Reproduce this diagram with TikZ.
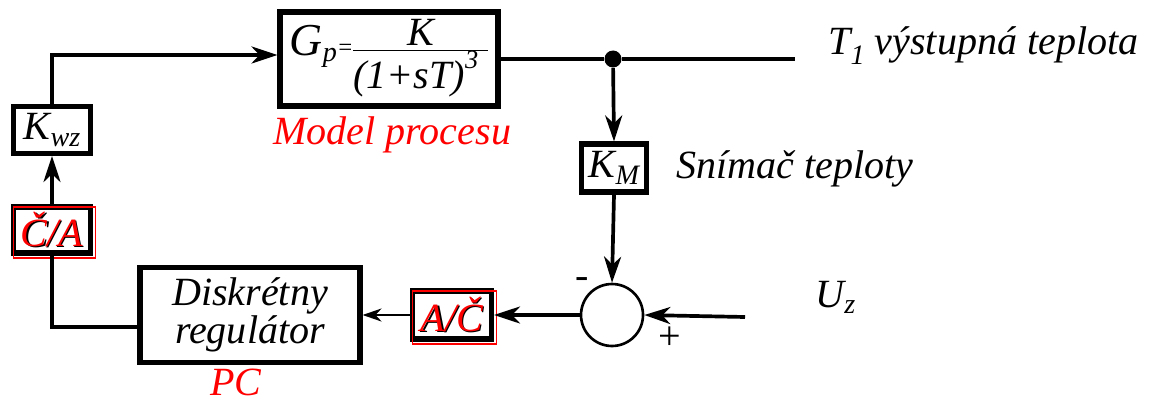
\documentclass[tikz,border=0pt]{standalone}
\usepackage{amsmath}
\usepackage{fontspec}
\setmainfont{Liberation Serif}
\usepackage{xcolor}
\usetikzlibrary{
  arrows.meta,
  positioning,
  calc
}
\newcommand{\redtext}[1]{\rlap{\kern0.7pt\raisebox{-0.7pt}{#1}}\textcolor{red}{#1}}
\newcommand{\sbs}[1]{\raisebox{-0.35ex}{\fontsize{16}{16}\selectfont #1}}
\newcommand{\fracline}[2]{\begin{tabular}{@{}c@{}}#1\\[-3pt]\hline\rule{0pt}{19pt}#2\end{tabular}}

\begin{document}
\begin{tikzpicture}[
  x=0.02cm, y=-0.02cm,
  every node/.style={font=\fontsize{22.8}{20}\selectfont\itshape, inner sep=0pt},
  block/.style={
    rectangle, draw, line width=2.9pt, fill=white, align=center
  },
  link/.style={line width=2.1pt},
  tip/.style={-{Stealth[length=0.52cm, width=0.34cm, inset=0.16cm]}},
  thintip/.style={line width=1.3pt, -{Stealth[length=0.38cm, width=0.26cm, inset=0.12cm]}},
  sumnode/.style={circle, draw, line width=1.5pt, minimum size=1.24cm},
  redframe/.style={draw=red, line width=0.8pt}
]
  \useasboundingbox (0,0) rectangle (1151,405);

  \node[block, minimum width=4.36cm, minimum height=1.88cm] (gp) at (389,59)
    {{\fontsize{26}{20}\selectfont G}\sbs{p}{\fontsize{14}{14}\selectfont=}\raisebox{-0.7ex}{\fracline{K}{(1+sT)\raisebox{1.1ex}{\fontsize{15}{15}\selectfont 3}\kern0.25em}}};
  \node[block, minimum width=1.54cm, minimum height=0.94cm] (kwz) at (52,130) {K\sbs{wz}};
  \node[block, minimum width=1.54cm, minimum height=0.92cm] (ca) at (52,230) {\redtext{Č/A}};
  \node[block, minimum width=1.58cm, minimum height=0.96cm] (ac) at (452,315) {\redtext{A/Č}};
  \node[block, minimum width=1.3cm, minimum height=0.96cm] (km) at (614,168) {K\sbs{M}};
  \node[block, minimum width=4.4cm, minimum height=1.9cm] (reg) at (250,315) {Diskrétny\\regulátor};
  \node[sumnode] (sum) at (612,315) {};
  \node[circle, fill, minimum size=0.34cm] (dot) at (613,59) {};
  \coordinate (out) at (795,59);
  \coordinate (uzin) at (745,317);

  % red frames
  \draw[redframe] ([shift={(0.05cm,-0.05cm)}]ca.north west) rectangle ([shift={(0.05cm,-0.05cm)}]ca.south east);
  \draw[redframe] ([shift={(0.05cm,-0.05cm)}]ac.north west) rectangle ([shift={(0.05cm,-0.05cm)}]ac.south east);

  % connections
  \draw[link] (gp.east) -- (dot) -- (out);
  \draw[link, tip] (dot) -- (km.north);
  \draw[link, tip] (km.south) -- (sum.north);
  \draw[link, tip] (uzin) -- (sum.east);
  \draw[link, tip] (sum.west) -- (ac.east);
  \draw[thintip] (ac.west) -- (reg.east);
  \draw[link] ([yshift=-0.24cm]reg.west) -| (ca.south);
  \draw[link, tip] (ca.north) -- (kwz.south);
  \draw[link, tip] (kwz.north) |- ([yshift=0.08cm]gp.west);

  % labels
  \node[anchor=base west, text=red] (model) at (273,145) {Model procesu};
  \node[anchor=base west] (outlbl) at (828,55) {T\raisebox{-0.5ex}{\fontsize{16}{16}\selectfont 1} výstupná teplota};
  \node[anchor=base west] (snimac) at (676,178) {Snímač teploty};
  \node[anchor=base west] (uz) at (815,307) {U\sbs{z}};
  \node[anchor=base west, text=red] (pc) at (210,395) {PC};
  \node (minus) at (582,283) {-};
  \node[font=\fontsize{22.8}{20}\selectfont\upshape] (plus) at (670,338) {+};
\end{tikzpicture}
\end{document}
